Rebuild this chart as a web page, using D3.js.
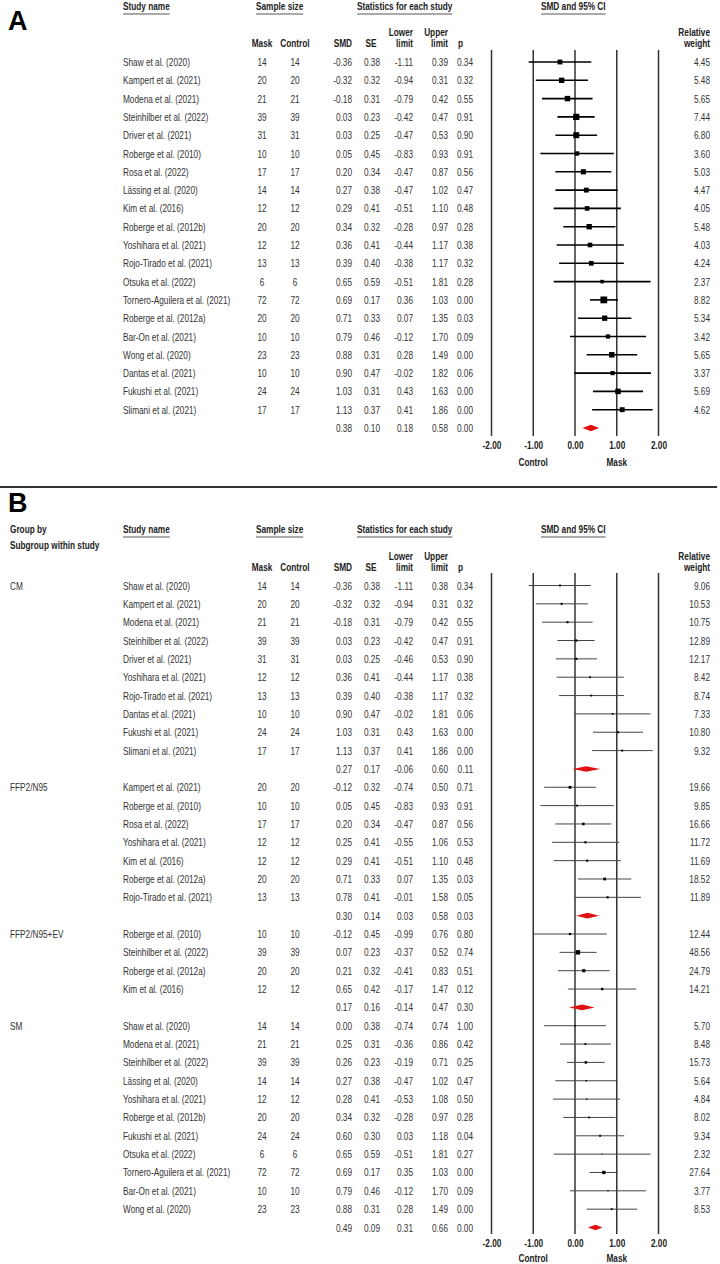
<!DOCTYPE html>
<html>
<head>
<meta charset="utf-8">
<script src="https://cdn.jsdelivr.net/npm/d3@7"></script>
<style>
  body { margin: 0; background: #fff; }
  svg { display: block; }
  text { font-family: "Liberation Sans", Arial, sans-serif; }
</style>
</head>
<body>
<svg id="chart"></svg>
<script>
var width  = 720;
var height = 1264;
var SX     = 0.75;   // the original uses a condensed Arial

// ---------- panel A: all studies
var studiesA = ['Shaw et al. (2020)', 'Kampert et al. (2021)', 'Modena et al. (2021)', 'Steinhilber et al. (2022)',
    'Driver et al. (2021)', 'Roberge et al. (2010)', 'Rosa et al. (2022)', 'Lässing et al. (2020)', 'Kim et al. (2016)',
    'Roberge et al. (2012b)', 'Yoshihara et al. (2021)', 'Rojo-Tirado et al. (2021)', 'Otsuka et al. (2022)',
    'Tornero-Aguilera et al. (2021)', 'Roberge et al. (2012a)', 'Bar-On et al. (2021)', 'Wong et al. (2020)',
    'Dantas et al. (2021)', 'Fukushi et al. (2021)', 'Slimani et al. (2021)'];
var maskA    = [14, 20, 21, 39, 31, 10, 17, 14, 12, 20, 12, 13, 6, 72, 20, 10, 23, 10, 24, 17];
var controlA = [14, 20, 21, 39, 31, 10, 17, 14, 12, 20, 12, 13, 6, 72, 20, 10, 23, 10, 24, 17];
var smdA     = [-0.36, -0.32, -0.18, 0.03, 0.03, 0.05, 0.20, 0.27, 0.29, 0.34, 0.36, 0.39, 0.65, 0.69, 0.71, 0.79, 0.88, 0.90, 1.03, 1.13];
var seA      = [0.38, 0.32, 0.31, 0.23, 0.25, 0.45, 0.34, 0.38, 0.41, 0.32, 0.41, 0.40, 0.59, 0.17, 0.33, 0.46, 0.31, 0.47, 0.31, 0.37];
var lowerA   = [-1.11, -0.94, -0.79, -0.42, -0.47, -0.83, -0.47, -0.47, -0.51, -0.28, -0.44, -0.38, -0.51, 0.36, 0.07, -0.12, 0.28, -0.02, 0.43, 0.41];
var upperA   = [0.39, 0.31, 0.42, 0.47, 0.53, 0.93, 0.87, 1.02, 1.10, 0.97, 1.17, 1.17, 1.81, 1.03, 1.35, 1.70, 1.49, 1.82, 1.63, 1.86];
var pA       = [0.34, 0.32, 0.55, 0.91, 0.90, 0.91, 0.56, 0.47, 0.48, 0.28, 0.38, 0.32, 0.28, 0.00, 0.03, 0.09, 0.00, 0.06, 0.00, 0.00];
var weightA  = [4.45, 5.48, 5.65, 7.44, 6.80, 3.60, 5.03, 4.47, 4.05, 5.48, 4.03, 4.24, 2.37, 8.82, 5.34, 3.42, 5.65, 3.37, 5.69, 4.62];
var pooledA  = {smd: 0.38, se: 0.10, lower: 0.18, upper: 0.58, p: 0.00};

// ---------- panel B: by mask subgroup
var groupNames = ['CM', 'FFP2/N95', 'FFP2/N95+EV', 'SM'];
var groupB = ['CM', 'CM', 'CM', 'CM', 'CM', 'CM', 'CM', 'CM', 'CM', 'CM',
    'FFP2/N95', 'FFP2/N95', 'FFP2/N95', 'FFP2/N95', 'FFP2/N95', 'FFP2/N95', 'FFP2/N95',
    'FFP2/N95+EV', 'FFP2/N95+EV', 'FFP2/N95+EV', 'FFP2/N95+EV',
    'SM', 'SM', 'SM', 'SM', 'SM', 'SM', 'SM', 'SM', 'SM', 'SM', 'SM'];
var studiesB = ['Shaw et al. (2020)', 'Kampert et al. (2021)', 'Modena et al. (2021)', 'Steinhilber et al. (2022)',
    'Driver et al. (2021)', 'Yoshihara et al. (2021)', 'Rojo-Tirado et al. (2021)', 'Dantas et al. (2021)',
    'Fukushi et al. (2021)', 'Slimani et al. (2021)',
    'Kampert et al. (2021)', 'Roberge et al. (2010)', 'Rosa et al. (2022)', 'Yoshihara et al. (2021)',
    'Kim et al. (2016)', 'Roberge et al. (2012a)', 'Rojo-Tirado et al. (2021)',
    'Roberge et al. (2010)', 'Steinhilber et al. (2022)', 'Roberge et al. (2012a)', 'Kim et al. (2016)',
    'Shaw et al. (2020)', 'Modena et al. (2021)', 'Steinhilber et al. (2022)', 'Lässing et al. (2020)',
    'Yoshihara et al. (2021)', 'Roberge et al. (2012b)', 'Fukushi et al. (2021)', 'Otsuka et al. (2022)',
    'Tornero-Aguilera et al. (2021)', 'Bar-On et al. (2021)', 'Wong et al. (2020)'];
var maskB    = [14, 20, 21, 39, 31, 12, 13, 10, 24, 17,  20, 10, 17, 12, 12, 20, 13,  10, 39, 20, 12,  14, 21, 39, 14, 12, 20, 24, 6, 72, 10, 23];
var controlB = [14, 20, 21, 39, 31, 12, 13, 10, 24, 17,  20, 10, 17, 12, 12, 20, 13,  10, 39, 20, 12,  14, 21, 39, 14, 12, 20, 24, 6, 72, 10, 23];
var smdB     = [-0.36, -0.32, -0.18, 0.03, 0.03, 0.36, 0.39, 0.90, 1.03, 1.13,
    -0.12, 0.05, 0.20, 0.25, 0.29, 0.71, 0.78,  -0.12, 0.07, 0.21, 0.65,
    0.00, 0.25, 0.26, 0.27, 0.28, 0.34, 0.60, 0.65, 0.69, 0.79, 0.88];
var seB      = [0.38, 0.32, 0.31, 0.23, 0.25, 0.41, 0.40, 0.47, 0.31, 0.37,
    0.32, 0.45, 0.34, 0.41, 0.41, 0.33, 0.41,  0.45, 0.23, 0.32, 0.42,
    0.38, 0.31, 0.23, 0.38, 0.41, 0.32, 0.30, 0.59, 0.17, 0.46, 0.31];
var lowerB   = [-1.11, -0.94, -0.79, -0.42, -0.46, -0.44, -0.38, -0.02, 0.43, 0.41,
    -0.74, -0.83, -0.47, -0.55, -0.51, 0.07, -0.01,  -0.99, -0.37, -0.41, -0.17,
    -0.74, -0.36, -0.19, -0.47, -0.53, -0.28, 0.03, -0.51, 0.35, -0.12, 0.28];
var upperB   = [0.38, 0.31, 0.42, 0.47, 0.53, 1.17, 1.17, 1.81, 1.63, 1.86,
    0.50, 0.93, 0.87, 1.06, 1.10, 1.35, 1.58,  0.76, 0.52, 0.83, 1.47,
    0.74, 0.86, 0.71, 1.02, 1.08, 0.97, 1.18, 1.81, 1.03, 1.70, 1.49];
var pB       = [0.34, 0.32, 0.55, 0.91, 0.90, 0.38, 0.32, 0.06, 0.00, 0.00,
    0.71, 0.91, 0.56, 0.53, 0.48, 0.03, 0.05,  0.80, 0.74, 0.51, 0.12,
    1.00, 0.42, 0.25, 0.47, 0.50, 0.28, 0.04, 0.27, 0.00, 0.09, 0.00];
var weightB  = [9.06, 10.53, 10.75, 12.89, 12.17, 8.42, 8.74, 7.33, 10.80, 9.32,
    19.66, 9.85, 16.66, 11.72, 11.69, 18.52, 11.89,  12.44, 48.56, 24.79, 14.21,
    5.70, 8.48, 15.73, 5.64, 4.84, 8.02, 9.34, 2.32, 27.64, 3.77, 8.53];
var pooledSmdB   = [0.27, 0.30, 0.17, 0.49];
var pooledSeB    = [0.17, 0.14, 0.16, 0.09];
var pooledLowerB = [-0.06, 0.03, -0.14, 0.31];
var pooledUpperB = [0.60, 0.58, 0.47, 0.66];
var pooledPB     = [0.11, 0.03, 0.30, 0.00];

var tickValues = [-2, -1, 0, 1, 2];

// ---------- rows
var rowsA = studiesA.map((s, i) => ({type: 'study', name: s, mask: maskA[i], control: controlA[i],
    smd: smdA[i], se: seA[i], lower: lowerA[i], upper: upperA[i], p: pA[i], weight: weightA[i]}));
rowsA.push(Object.assign({type: 'pooled'}, pooledA));

var rowsB = [];
groupNames.forEach(function(g, gi) {
    var first = true;
    studiesB.forEach(function(s, i) {
        if (groupB[i] !== g) return;
        rowsB.push({type: 'study', group: first ? g : null, name: s, mask: maskB[i], control: controlB[i],
            smd: smdB[i], se: seB[i], lower: lowerB[i], upper: upperB[i], p: pB[i], weight: weightB[i]});
        first = false;
    });
    rowsB.push({type: 'pooled', smd: pooledSmdB[gi], se: pooledSeB[gi], lower: pooledLowerB[gi],
        upper: pooledUpperB[gi], p: pooledPB[gi]});
});

var f2 = d => d.toFixed(2);
var columns = [
    {key: 'mask',    x: 262, anchor: 'middle', fmt: String},
    {key: 'control', x: 295, anchor: 'middle', fmt: String},
    {key: 'smd',     x: 352, anchor: 'end', fmt: f2},
    {key: 'se',      x: 380, anchor: 'end', fmt: f2},
    {key: 'lower',   x: 413, anchor: 'end', fmt: f2},
    {key: 'upper',   x: 448, anchor: 'end', fmt: f2},
    {key: 'p',       x: 473, anchor: 'end', fmt: f2},
    {key: 'weight',  x: 710, anchor: 'end', fmt: f2}
];

var svg = d3.select('#chart')
        .attr('width', width)
        .attr('height', height);

var xScale = d3.scaleLinear()
                .domain([-2, 2])
                .range([491.5, 658.5]);

function txt(sel, tx, ty, s, anchor, bold, fill) {
    return sel.append('text')
        .attr('transform', 'translate(' + tx + ',' + ty + ') scale(' + SX + ',1)')
        .attr('text-anchor', anchor || 'start')
        .attr('font-weight', bold ? 'bold' : null)
        .attr('font-size', 11)
        .style('fill', fill || '#333')
        .text(s);
}

function header(sel, tx, ty, s) {
    var t = txt(sel, tx, ty, s, 'start', true, '#222');
    var w = t.node().getComputedTextLength() * SX;
    sel.append('line')
        .attr('x1', tx).attr('x2', tx + w)
        .attr('y1', ty + 4).attr('y2', ty + 4)
        .attr('stroke', '#aaa')
        .attr('stroke-width', 2);
}

function drawPanel(cfg) {
    var g = svg.append('g');
    var rows = cfg.rows;
    var yScale = d3.scaleLinear()
                    .domain([0, rows.length - 1])
                    .range([cfg.y0, cfg.y1]);

    g.append('text')
        .attr('x', 8).attr('y', cfg.letterY)
        .attr('font-size', 27).attr('font-weight', 'bold')
        .style('fill', '#000')
        .text(cfg.letter);

    header(g, 123, cfg.headY, 'Study name');
    header(g, 256, cfg.headY, 'Sample size');
    header(g, 357, cfg.headY, 'Statistics for each study');
    header(g, 541, cfg.headY, 'SMD and 95% CI');
    if (cfg.grouped) {
        txt(g, 10, cfg.headY, 'Group by', 'start', true, '#222');
        txt(g, 10, cfg.headY + 16, 'Subgroup within study', 'start', true, '#222');
    }

    var s1 = cfg.subY - 11, s2 = cfg.subY;
    txt(g, 413, s1, 'Lower', 'end', true, '#222');
    txt(g, 448, s1, 'Upper', 'end', true, '#222');
    txt(g, 710, s1, 'Relative', 'end', true, '#222');
    txt(g, 262, s2, 'Mask', 'middle', true, '#222');
    txt(g, 295, s2, 'Control', 'middle', true, '#222');
    txt(g, 352, s2, 'SMD', 'end', true, '#222');
    txt(g, 371, s2, 'SE', 'middle', true, '#222');
    txt(g, 413, s2, 'limit', 'end', true, '#222');
    txt(g, 448, s2, 'limit', 'end', true, '#222');
    txt(g, 458, s2, 'p', 'start', true, '#222');
    txt(g, 710, s2, 'weight', 'end', true, '#222');

    // table text
    rows.forEach(function(r, i) {
        var yy = yScale(i) + 4;
        if (r.group) txt(g, 10, yy, r.group);
        if (r.name) txt(g, 123, yy, r.name);
        columns.forEach(function(c) {
            if (r[c.key] === undefined) return;
            txt(g, c.x, yy, c.fmt(r[c.key]), c.anchor);
        });
    });

    // reference lines
    g.selectAll('line.ref')
        .data(tickValues)
        .enter()
        .append('line')
            .attr('class', 'ref')
            .attr('x1', d => xScale(d)).attr('x2', d => xScale(d))
            .attr('y1', cfg.lineTop).attr('y2', cfg.lineBottom)
            .attr('stroke', '#333')
            .attr('stroke-width', 1.5);

    var studies = rows.map((r, i) => Object.assign({i: i}, r)).filter(r => r.type === 'study');
    var pooled  = rows.map((r, i) => Object.assign({i: i}, r)).filter(r => r.type === 'pooled');

    g.selectAll('line.ci')
        .data(studies)
        .enter()
        .append('line')
            .attr('class', 'ci')
            .attr('x1', d => xScale(d.lower)).attr('x2', d => xScale(d.upper))
            .attr('y1', d => yScale(d.i)).attr('y2', d => yScale(d.i))
            .attr('stroke', cfg.ciColor)
            .attr('stroke-width', cfg.ciWidth);

    var sizeScale = d3.scaleSqrt()
                        .domain([0, d3.max(studies, d => d.weight)])
                        .range([0, cfg.markMax]);

    g.selectAll('rect.mark')
        .data(studies)
        .enter()
        .append('rect')
            .attr('class', 'mark')
            .attr('x', d => xScale(d.smd) - sizeScale(d.weight) / 2)
            .attr('y', d => yScale(d.i) - sizeScale(d.weight) / 2)
            .attr('width', d => sizeScale(d.weight))
            .attr('height', d => sizeScale(d.weight))
            .attr('fill', '#000');

    g.selectAll('path.pool')
        .data(pooled)
        .enter()
        .append('path')
            .attr('class', 'pool')
            .attr('d', function(d) {
                var yy = yScale(d.i), h = cfg.diamondH;
                return 'M' + xScale(d.lower) + ',' + yy + 'L' + xScale(d.smd) + ',' + (yy - h) +
                       'L' + xScale(d.upper) + ',' + yy + 'L' + xScale(d.smd) + ',' + (yy + h) + 'Z';
            })
            .attr('fill', '#e01010');

    var axis = g.append('g')
        .attr('transform', 'translate(0,' + cfg.tickY + ')')
        .call(d3.axisBottom(xScale).tickValues(tickValues).tickSize(0).tickPadding(3).tickFormat(f2));
    axis.select('.domain').remove();
    axis.selectAll('text')
        .attr('transform', 'scale(' + SX + ',1)')
        .attr('font-size', 11)
        .attr('font-weight', 'bold')
        .attr('font-family', '"Liberation Sans", Arial, sans-serif')
        .style('fill', '#222');

    txt(g, xScale(-1), cfg.sideY, 'Control', 'middle', true, '#222');
    txt(g, xScale(1), cfg.sideY, 'Mask', 'middle', true, '#222');
}

drawPanel({rows: rowsA, letter: 'A', letterY: 30, grouped: false, headY: 10, subY: 47,
    y0: 62, y1: 428, lineTop: 50, lineBottom: 436, tickY: 438, sideY: 466,
    ciColor: '#000', ciWidth: 1.6, markMax: 6.8, diamondH: 3.2});

svg.append('line')
    .attr('x1', 0).attr('x2', 717)
    .attr('y1', 487).attr('y2', 487)
    .attr('stroke', '#333')
    .attr('stroke-width', 2);

drawPanel({rows: rowsB, letter: 'B', letterY: 512, grouped: true, headY: 533, subY: 571,
    y0: 585.5, y1: 1227.5, lineTop: 573, lineBottom: 1234, tickY: 1236, sideY: 1262,
    ciColor: '#444', ciWidth: 1, markMax: 4.4, diamondH: 2.8});
</script>
</body>
</html>
